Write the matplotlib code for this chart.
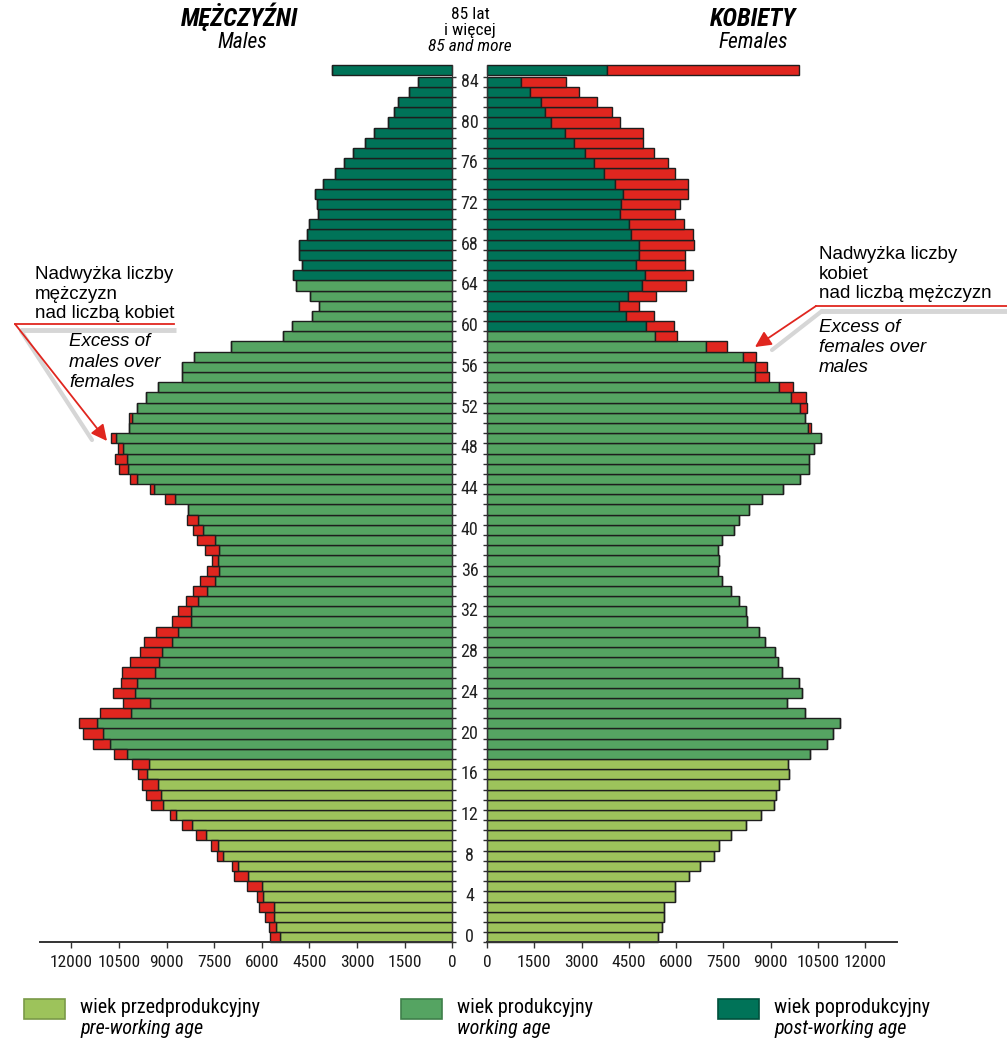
import matplotlib
matplotlib.use("Agg")
import matplotlib.pyplot as plt
from matplotlib.patches import Rectangle
from matplotlib.transforms import blended_transform_factory
from matplotlib import font_manager as fm
import numpy as np

# ---------------- data ----------------
ages = list(range(86))  # 0..84, 85 = "85 and more"
males = [5737, 5778, 5904, 6093, 6156, 6451, 6870, 6933, 7395, 7604,
         8075, 8507, 8875, 9492, 9650, 9775, 9900, 10102, 10656, 11317,
         11622, 11748, 11087, 10363, 10688, 10426, 10395, 10143, 9850, 9724,
         9325, 8831, 8623, 8381, 8160, 7940, 7729, 7572, 7782, 8025,
         8151, 8340, 8330, 9032, 9535, 10143, 10511, 10615, 10542, 10751,
         10180, 10196, 9932, 9650, 9272, 8516, 8516, 8119, 6964, 5328,
         5054, 4425, 4185, 4469, 4928, 5004, 4720, 4824, 4824, 4563,
         4500, 4236, 4267, 4311, 4079, 3701, 3408, 3115, 2757, 2474,
         2033, 1835, 1699, 1353, 1070, 3795]
females = [5440, 5546, 5609, 5609, 5969, 5980, 6424, 6763, 7207, 7376,
           7747, 8212, 8700, 9112, 9165, 9282, 9599, 9546, 10255, 10784,
           10996, 11197, 10107, 9515, 10001, 9916, 9377, 9250, 9154, 8827,
           8626, 8244, 8223, 8001, 7737, 7471, 7344, 7376, 7344, 7471,
           7842, 8001, 8330, 8730, 9400, 9940, 10210, 10230, 10380, 10600,
           10290, 10100, 10171, 10118, 9726, 8963, 8900, 8530, 7610, 6043,
           5948, 5302, 4826, 5366, 6318, 6551, 6287, 6287, 6583, 6530,
           6265, 5969, 6128, 6392, 6392, 5969, 5757, 5292, 4942, 4964,
           4223, 3969, 3482, 2931, 2508, 9906]
age_labels = [str(a) for a in range(0, 85, 4)]
xticks = [0, 1500, 3000, 4500, 6000, 7500, 9000, 10500, 12000]
male_working_end = 64     # males: working age 18-64
female_working_end = 59   # females: working age 18-59
pre_working_end = 17

title_m = ("MĘŻCZYŹNI", "Males")
title_f = ("KOBIETY", "Females")
center_title = ("85 lat", "i więcej", "85 and more")
legend_pl = ["wiek przedprodukcyjny", "wiek produkcyjny", "wiek poprodukcyjny"]
legend_en = ["pre-working age", "working age", "post-working age"]

LIGHT = "#9dc35b"
MED = "#55a462"
DARK = "#007358"
RED = "#e0261f"
EDGE = "#1e1e1e"

REG = ["Liberation Sans", "DejaVu Sans"]


# ---- try to find a condensed sans font (Arial Narrow look) ----
def _find_condensed(italic=False, bold=False):
    prefs = ["Liberation Sans Narrow", "Arial Narrow", "Roboto Condensed",
             "DejaVu Sans Condensed", "Open Sans Condensed", "Noto Sans Condensed"]
    found = []
    for e in fm.fontManager.ttflist:
        nm = e.name
        st = str(e.stretch)
        is_cond = ("Narrow" in nm or "Condensed" in nm or
                   st in ("condensed", "semi-condensed", "75", "87.5")
                   or "Condensed" in e.fname or "Narrow" in e.fname)
        if not is_cond:
            continue
        if "Mono" in nm or "Serif" in nm or "Mono" in e.fname or "Serif" in e.fname:
            continue
        it = e.style in ("italic", "oblique")
        w = e.weight if isinstance(e.weight, int) else (700 if e.weight == "bold" else 400)
        bd = w >= 600
        if it != italic or bd != bold:
            continue
        rank = len(prefs)
        for i, p in enumerate(prefs):
            if p.split()[0] in nm or p.replace(" ", "") in e.fname.replace(" ", ""):
                rank = min(rank, i)
        found.append((rank, e.fname))
    if not found:
        return None
    found.sort()
    return fm.FontProperties(fname=found[0][1])


CN = _find_condensed()
CN_I = _find_condensed(italic=True)
CN_BI = _find_condensed(italic=True, bold=True)


def fp(kind, size):
    """font properties for condensed text, falls back to regular Liberation Sans"""
    base = {"r": CN, "i": CN_I, "bi": CN_BI}[kind]
    if base is not None:
        p = base.copy()
        p.set_size(size)
        return p
    p = fm.FontProperties(family=REG, size=size * 0.88,
                          style="italic" if "i" in kind else "normal",
                          weight="bold" if "b" in kind else "normal")
    return p


# ---------------- figure ----------------
W, H = 1007, 1041
fig = plt.figure(figsize=(W / 100, H / 100), dpi=100)


def fx(px):
    return px / W


def fy(py):
    return 1 - py / H


y_bot_px, y_top_px = 942.3, 64.5
ylo, yhi = -0.45, 85.7
ax_b = fy(y_bot_px)
ax_h = (y_bot_px - y_top_px) / H
axL = fig.add_axes([fx(39.5), ax_b, fx(452.3) - fx(39.5), ax_h])
axR = fig.add_axes([fx(487), ax_b, fx(896.5) - fx(487), ax_h])


def group_color(age, working_end):
    if age <= pre_working_end:
        return LIGHT
    if age <= working_end:
        return MED
    return DARK


m = np.array(males, dtype=float)
f = np.array(females, dtype=float)
common = np.minimum(m, f)
m_excess = np.clip(m - f, 0, None)
f_excess = np.clip(f - m, 0, None)
y = np.array(ages, dtype=float)
y[-1] = 85.2  # open-ended top group sits slightly apart

colL = [group_color(a, male_working_end) for a in ages]
colR = [group_color(a, female_working_end) for a in ages]

tick_fp = fp("r", 12.5)
for ax, cols, exc in ((axL, colL, m_excess), (axR, colR, f_excess)):
    ax.barh(y, common, height=1.0, color=cols, edgecolor=EDGE, linewidth=1.0,
            clip_on=False, zorder=2)
    ax.barh(y, exc, left=common, height=1.0, color=RED, edgecolor=EDGE,
            linewidth=1.0, clip_on=False, zorder=2)
    ax.set_ylim(ylo, yhi)
    ax.set_xlim(0, 13000)
    ax.set_xticks(xticks)
    ax.set_xticklabels([str(t) for t in xticks])
    for lab in ax.get_xticklabels():
        lab.set_fontproperties(tick_fp)
        lab.set_color("#1a1a1a")
    ax.tick_params(axis="x", length=4, width=1, color="#333333", pad=5)
    ax.set_yticks(np.arange(-0.5, 84.6, 1.0))
    ax.set_yticklabels([])
    ax.tick_params(axis="y", length=3, width=1, color="#333333", direction="out")
    ax.spines["top"].set_visible(False)
    ax.spines["bottom"].set_color("#333333")
    ax.spines["bottom"].set_linewidth(1.4)
    ax.patch.set_visible(False)

axL.invert_xaxis()
axL.spines["left"].set_visible(False)
axL.yaxis.tick_right()
axL.spines["right"].set_color("#333333")
axL.spines["right"].set_bounds(ylo, 85.7)
axR.spines["right"].set_visible(False)
axR.spines["left"].set_color("#333333")
axR.spines["left"].set_bounds(ylo, 85.7)

# age labels in the gap
tr = blended_transform_factory(fig.transFigure, axL.transData)
for lab in age_labels:
    fig.text(fx(469.5), float(lab), lab, transform=tr, ha="center", va="center",
             fontproperties=fp("r", 13), color="#222222")

# ---------------- overlay for titles, legend, annotations ----------------
axO = fig.add_axes([0, 0, 1, 1], zorder=5)
axO.set_xlim(0, W)
axO.set_ylim(H, 0)
axO.axis("off")
axO.patch.set_visible(False)

axO.text(240, 26, title_m[0], ha="center", va="baseline", fontproperties=fp("bi", 18))
axO.text(242, 48, title_m[1], ha="center", va="baseline", fontproperties=fp("i", 15.5))
axO.text(753, 26, title_f[0], ha="center", va="baseline", fontproperties=fp("bi", 18))
axO.text(753, 48, title_f[1], ha="center", va="baseline", fontproperties=fp("i", 15.5))
axO.text(470, 19, center_title[0], ha="center", va="baseline", fontproperties=fp("r", 12.5))
axO.text(470, 35, center_title[1], ha="center", va="baseline", fontproperties=fp("r", 12.5))
axO.text(470, 51, center_title[2], ha="center", va="baseline", fontproperties=fp("i", 12.5))

# legend
leg_x = [24, 401, 718]
leg_cols = [LIGHT, MED, DARK]
leg_edge = ["#7a9a48", "#3f7f4a", "#00503c"]
for i in range(3):
    axO.add_patch(Rectangle((leg_x[i], 999), 41, 20, facecolor=leg_cols[i],
                            edgecolor=leg_edge[i], linewidth=1.2))
    axO.text(leg_x[i] + 56, 1013, legend_pl[i], ha="left", va="baseline",
             fontproperties=fp("r", 14.5))
    axO.text(leg_x[i] + 56, 1034, legend_en[i], ha="left", va="baseline",
             fontproperties=fp("i", 14.5))

# annotations
SH = "#d6d6d6"
# left
axO.plot([20, 176], [330, 330], color=SH, lw=3.5, solid_capstyle="butt", zorder=1)
axO.plot([21, 92], [331, 440], color=SH, lw=3, solid_capstyle="round", zorder=1)
axO.plot([15, 174], [324, 324], color=RED, lw=1.3, zorder=3)
axO.annotate("", xy=(107, 441), xytext=(15, 324),
             arrowprops=dict(arrowstyle="-|>", color=RED, lw=1.3,
                             mutation_scale=24, shrinkA=0, shrinkB=0), zorder=3)
for t, yy in zip(["Nadwyżka liczby", "mężczyzn", "nad liczbą kobiet"], [279, 299, 318]):
    axO.text(35, yy, t, ha="left", va="baseline", fontsize=13.5, fontfamily=REG)
for t, yy in zip(["Excess of", "males over", "females"], [346, 367, 387]):
    axO.text(69, yy, t, ha="left", va="baseline", fontsize=13.5,
             fontstyle="italic", fontfamily=REG)

# right
axO.plot([820, 1007], [311, 311], color=SH, lw=3.5, solid_capstyle="butt", zorder=1)
axO.plot([822, 772], [311, 350], color=SH, lw=3, solid_capstyle="round", zorder=1)
axO.plot([816, 1007], [306, 306], color=RED, lw=1.3, zorder=3)
axO.annotate("", xy=(755, 347), xytext=(816, 306),
             arrowprops=dict(arrowstyle="-|>", color=RED, lw=1.3,
                             mutation_scale=24, shrinkA=0, shrinkB=0), zorder=3)
for t, yy in zip(["Nadwyżka liczby", "kobiet", "nad liczbą mężczyzn"], [259, 279, 298]):
    axO.text(819, yy, t, ha="left", va="baseline", fontsize=13.5, fontfamily=REG)
for t, yy in zip(["Excess of", "females over", "males"], [332, 352, 372]):
    axO.text(819, yy, t, ha="left", va="baseline", fontsize=13.5,
             fontstyle="italic", fontfamily=REG)

fig.savefig("out.png", dpi=100)
